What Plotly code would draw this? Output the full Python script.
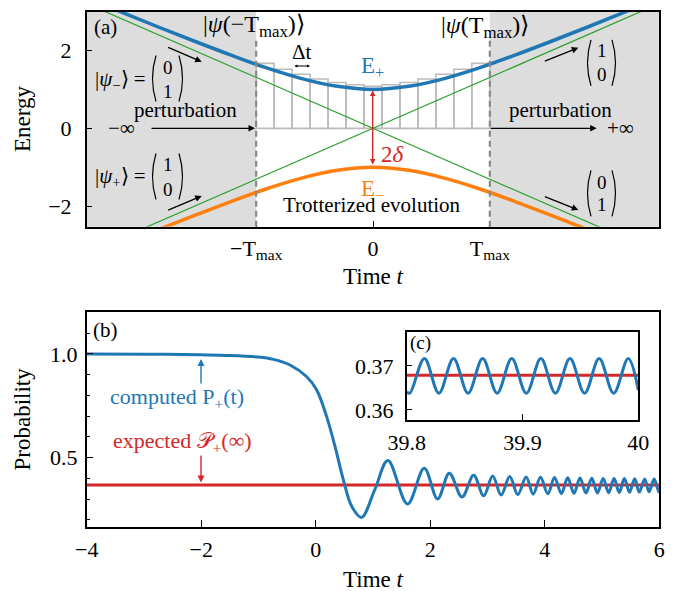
import plotly.graph_objects as go

# ---------------- data ----------------
T_MAX = 1.31
# panel (a): adiabatic energies
t_energy = [-3.2, -2.8, -2.4, -2.0, -1.6, -1.2, -0.8, -0.4, 0.0, 0.4, 0.8, 1.2, 1.6, 2.0, 2.4, 2.8, 3.2]
E_plus = [3.35, 2.97, 2.60, 2.24, 1.89, 1.56, 1.28, 1.08, 1.00, 1.08, 1.28, 1.56, 1.89, 2.24, 2.60, 2.97, 3.35]
E_minus = [-3.35, -2.97, -2.60, -2.24, -1.89, -1.56, -1.28, -1.08, -1.00, -1.08, -1.28, -1.56, -1.89, -2.24, -2.60, -2.97, -3.35]
# diabatic (green) lines
t_diab = [-3.21, 3.21]
E_diab_a = [-3.21, 3.21]
E_diab_b = [3.21, -3.21]
# Trotter steps
step_t = [-1.209, -1.008, -0.806, -0.605, -0.403, -0.202, 0.0, 0.202, 0.403, 0.605, 0.806, 1.008, 1.209]
step_E = [1.67, 1.52, 1.39, 1.27, 1.18, 1.12, 1.08, 1.12, 1.18, 1.27, 1.39, 1.52, 1.67]
step_dt = [0.2015] * 13

# panel (b): computed probability
t_prob = [-4.0, -3.0, -2.0, -1.5, -1.0, -0.74, -0.45, -0.157, 0.017, 0.19, 0.338, 0.483, 0.63, 0.80, 1.03,
          1.26, 1.603, 1.895, 2.128, 2.333, 2.555, 2.758, 2.933, 3.09, 3.237, 3.388, 3.528, 3.675, 3.797,
          3.925, 4.053, 4.17, 4.29, 4.40, 4.51, 4.615, 4.72, 4.82, 4.92, 5.02, 5.115, 5.21, 5.30, 5.39,
          5.48, 5.57, 5.65, 5.745, 5.82, 5.91, 5.99, 6.0]
P_prob = [1.0, 0.999, 0.996, 0.993, 0.985, 0.974, 0.947, 0.89, 0.826, 0.698, 0.553, 0.392, 0.264, 0.212, 0.345,
          0.486, 0.277, 0.449, 0.301, 0.425, 0.310, 0.415, 0.316, 0.411, 0.320, 0.409, 0.322, 0.407, 0.324,
          0.405, 0.326, 0.404, 0.327, 0.403, 0.328, 0.402, 0.329, 0.401, 0.330, 0.400, 0.331, 0.399, 0.332, 0.399,
          0.333, 0.398, 0.334, 0.397, 0.335, 0.397, 0.336, 0.337]
t_expected = [-4.0, 6.0]
P_expected = [0.3679, 0.3679]

# panel (c): inset
t_inset = [39.8000, 39.8027, 39.8153, 39.8278, 39.8404, 39.8530, 39.8656, 39.8781, 39.8907, 39.9033,
           39.9159, 39.9284, 39.9410, 39.9536, 39.9662, 39.9787, 39.9913, 40.0000]
P_inset = [0.3641, 0.3638, 0.3717, 0.3638, 0.3717, 0.3638, 0.3717, 0.3638, 0.3717, 0.3638,
           0.3717, 0.3638, 0.3717, 0.3638, 0.3717, 0.3638, 0.3717, 0.3645]
t_inset_expected = [39.8, 40.0]
P_inset_expected = [0.3679, 0.3679]
band_start = [39.825, 39.875, 39.925, 39.975]
band_width = 0.025

# ---------------- styling ----------------
W, H = 677, 591
OFF = 8  # page body margin
FONT = "Liberation Serif"
BLUE, ORANGE, GREEN, RED = "#1f77b4", "#ff7f0e", "#2ca02c", "#d62728"
SHADE = "#dddddd"


def P(px, py):
    return (px - OFF) / W, 1 - (py - OFF) / H


def dom_x(p0, p1):
    return [P(p0, 0)[0], P(p1, 0)[0]]


def dom_y(ptop, pbot):
    return [P(0, pbot)[1], P(0, ptop)[1]]


fig = go.Figure()

# panel (a)
fig.add_trace(go.Bar(x=step_t, y=step_E, width=step_dt, marker=dict(color="rgba(0,0,0,0)",
                     line=dict(color="#bbbbbb", width=1.6)), xaxis="x", yaxis="y"))
fig.add_trace(go.Scatter(x=t_diab, y=E_diab_a, mode="lines", line=dict(color=GREEN, width=1.2), xaxis="x", yaxis="y"))
fig.add_trace(go.Scatter(x=t_diab, y=E_diab_b, mode="lines", line=dict(color=GREEN, width=1.2), xaxis="x", yaxis="y"))
fig.add_trace(go.Scatter(x=t_energy, y=E_plus, mode="lines", line=dict(color=BLUE, width=3.5, shape="spline"),
                         xaxis="x", yaxis="y"))
fig.add_trace(go.Scatter(x=t_energy, y=E_minus, mode="lines", line=dict(color=ORANGE, width=3.5, shape="spline"),
                         xaxis="x", yaxis="y"))

# panel (b)
fig.add_trace(go.Scatter(x=t_expected, y=P_expected, mode="lines", line=dict(color=RED, width=3), xaxis="x2", yaxis="y2"))
fig.add_trace(go.Scatter(x=t_prob, y=P_prob, mode="lines", line=dict(color=BLUE, width=3, shape="spline"),
                         xaxis="x2", yaxis="y2"))

# panel (c)
fig.add_trace(go.Scatter(x=t_inset_expected, y=P_inset_expected, mode="lines", line=dict(color=RED, width=3),
                         xaxis="x3", yaxis="y3"))
fig.add_trace(go.Scatter(x=t_inset, y=P_inset, mode="lines", line=dict(color=BLUE, width=3, shape="spline"),
                         xaxis="x3", yaxis="y3"))

shapes = []
# shading outside [-Tmax, Tmax]
shapes.append(dict(type="rect", xref="x", yref="y domain", x0=-3.21, x1=-T_MAX, y0=0, y1=1,
                   fillcolor=SHADE, line=dict(width=0), layer="below"))
shapes.append(dict(type="rect", xref="x", yref="y domain", x0=T_MAX, x1=3.21, y0=0, y1=1,
                   fillcolor=SHADE, line=dict(width=0), layer="below"))
for xv in (-T_MAX, T_MAX):
    shapes.append(dict(type="line", xref="x", yref="y", x0=xv, x1=xv, y0=-2.53, y1=2.35,
                       line=dict(color="#888888", width=2.2, dash="6px,4px")))
for bs in band_start:
    shapes.append(dict(type="rect", xref="x3", yref="y3 domain", x0=bs, x1=bs + band_width, y0=0, y1=1,
                       fillcolor=SHADE, line=dict(width=0), layer="below"))


def paren(xpix, cy, h, side):
    # side = -1 for "(", +1 for ")"
    x_end = xpix - side * 3
    x_ctl = xpix + side * 4
    a = P(x_end, cy - h)
    b = P(x_ctl, cy)
    c = P(x_end, cy + h)
    return dict(type="path", xref="paper", yref="paper",
                path=f"M {a[0]},{a[1]} Q {b[0]},{b[1]} {c[0]},{c[1]}",
                line=dict(color="black", width=1.2))


for (xl, xr, cy) in [(153, 182, 78.5), (153, 182, 176.5), (588, 615, 62.8), (588, 615, 193.3)]:
    shapes.append(paren(xl, cy, 23, -1))
    shapes.append(paren(xr, cy, 23, +1))

ann = []


def txt(text, px, py, size=20, color="black", xanchor="center", angle=0):
    x, y = P(px, py)
    ann.append(dict(text=text, x=x, y=y, xref="paper", yref="paper", showarrow=False,
                    font=dict(family=FONT, size=size, color=color), xanchor=xanchor, yanchor="middle",
                    textangle=angle))


def arrow(hx, hy, tx, ty, color="black", width=1.3, side="end", size=1.0, head=2):
    x, y = P(hx, hy)
    ann.append(dict(text="", x=x, y=y, xref="paper", yref="paper", showarrow=True,
                    ax=tx - hx, ay=ty - hy, axref="pixel", ayref="pixel",
                    arrowhead=head, startarrowhead=head, arrowsize=size, startarrowsize=size,
                    arrowwidth=width, arrowcolor=color, arrowside=side, standoff=0, startstandoff=0))


# axis titles
txt("Energy", 22, 119, 23, angle=-90)
txt("Time <i>t</i>", 373, 276, 23)
txt("Probability", 22, 419.5, 23, angle=-90)
txt("Time <i>t</i>", 373, 579, 23)

# panel (a) texts
txt("(a)", 105, 27, 21)
txt("|<i>ψ</i>(−T<sub>max</sub>)⟩", 254, 26, 24)
txt("|<i>ψ</i>(T<sub>max</sub>)⟩", 485, 27, 24)
txt("Δt", 301.7, 52, 21)
arrow(310, 66, 293, 66, side="end+start", size=0.6, width=1.0)
txt("E<sub>+</sub>", 372.7, 66.7, 23, BLUE)
txt("E<sub>−</sub>", 372.7, 190, 23, ORANGE)
txt("Trotterized evolution", 372, 205, 21)
arrow(372.7, 90.5, 372.7, 166, color=RED, side="end+start", size=0.8, width=1.4)
txt("2<i>δ</i>", 392, 155, 23, RED)
txt("perturbation", 185, 110, 21)
txt("perturbation", 560, 110, 21)
txt("−∞", 121.7, 128.3, 21)
txt("+∞", 620, 128.3, 21)
arrow(255, 128.3, 150, 128.3)
arrow(596.7, 128.3, 489.3, 128.3)
arrow(201.7, 61.7, 166.7, 46.7)
arrow(201.7, 196, 166.7, 210.7)
arrow(578.3, 47.7, 543.3, 61.7)
arrow(578.3, 210, 543.3, 196)
txt("|<i>ψ</i><sub>−</sub>⟩ =", 148, 80, 21, xanchor="right")
txt("|<i>ψ</i><sub>+</sub>⟩ =", 148, 177, 21, xanchor="right")
for (px, py, s) in [(168, 67, "0"), (168, 91, "1"), (168, 164, "1"), (168, 189, "0"),
                    (601.7, 51, "1"), (601.7, 75, "0"), (601.7, 182, "0"), (601.7, 205, "1")]:
    txt(s, px, py, 19)

# panel (b) texts
txt("(b)", 105, 330, 21)
txt("computed P<sub>+</sub>(t)", 176.7, 398.3, 22, BLUE)
arrow(201, 359, 201, 385, color=BLUE, width=1.4)
txt("expected 𝒫<sub>+</sub>(∞)", 182.5, 441.7, 22, RED)
arrow(201, 482.5, 201, 454, color=RED, width=1.4)
txt("(c)", 420, 343, 19)

axis_common = dict(showline=True, linecolor="black", linewidth=1.5, mirror=True, ticks="inside",
                   tickcolor="black", showgrid=False, zeroline=False, automargin=False,
                   tickfont=dict(family=FONT, size=22, color="black"))

fig.update_layout(
    width=W, height=H, margin=dict(l=0, r=0, t=0, b=0, pad=0), autosize=False,
    paper_bgcolor="white", plot_bgcolor="white", showlegend=False,
    font=dict(family=FONT, size=20, color="black"),
    shapes=shapes, annotations=ann,
    xaxis=dict(domain=dom_x(86.7, 659.3), range=[-3.21, 3.21], tickvals=[-T_MAX, 0, T_MAX],
               ticktext=["−T<sub>max</sub>", "0", "T<sub>max</sub>"], anchor="y", ticklen=6,
               ticklabelstandoff=1, **axis_common),
    yaxis=dict(domain=dom_y(11.7, 226.7), range=[-2.53, 3.0], tickvals=[-2, 0, 2],
               ticktext=["−2", "0", "2"], anchor="x", ticklen=6, ticklabelstandoff=9, **axis_common),
    xaxis2=dict(domain=dom_x(86.7, 659.3), range=[-4, 6], tickvals=[-4, -2, 0, 2, 4, 6],
                ticktext=["−4", "−2", "0", "2", "4", "6"], anchor="y2", ticklen=7,
                ticklabelstandoff=2, **axis_common),
    yaxis2=dict(domain=dom_y(312.3, 526.7), range=[0.167, 1.201], tickvals=[0.5, 1.0], ticktext=["0.5", "1.0"],
                anchor="x2", ticklen=7, ticklabelstandoff=3,
                minor=dict(dtick=0.1, tick0=0, ticks="inside", ticklen=4, tickcolor="black"), **axis_common),
    xaxis3=dict(domain=dom_x(406.7, 638.3), range=[39.8, 40.0], tickvals=[39.8, 39.9, 40.0],
                ticktext=["39.8", "39.9", "40"], anchor="y3", ticklen=6, ticklabelstandoff=2, **axis_common),
    yaxis3=dict(domain=dom_y(331.7, 420), range=[0.3577, 0.3778], tickvals=[0.36, 0.37],
                ticktext=["0.36", "0.37"], anchor="x3", ticklen=6, ticklabelstandoff=7, **axis_common),
)

fig.write_html("out.html")
